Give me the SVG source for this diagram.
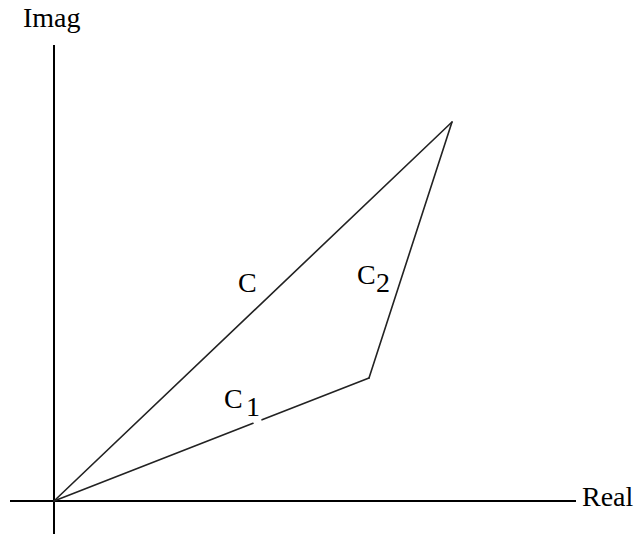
<svg xmlns="http://www.w3.org/2000/svg" width="634" height="536" viewBox="0 0 634 536">
<style>
.axis{stroke:#000;stroke-width:2;fill:none}
.edge{stroke:#222;stroke-width:1.6;fill:none;stroke-linecap:round}
text{font-family:"Liberation Serif","Times New Roman",serif;font-size:28px;fill:#000}
</style>
<rect width="634" height="536" fill="#fff"/>
<g id="axes">
<line class="axis" x1="54" y1="45" x2="54" y2="534"/>
<line class="axis" x1="10" y1="501" x2="576" y2="501"/>
<text id="imag-label" x="23" y="27">Imag</text>
<text id="real-label" x="582" y="506">Real</text>
</g>
<g id="connectors">
<line class="edge" x1="54" y1="501" x2="452" y2="122"/>
<line class="edge" x1="54" y1="501" x2="253" y2="423.3"/>
<line class="edge" x1="262" y1="419.8" x2="369" y2="378"/>
<line class="edge" x1="369" y1="378" x2="452" y2="122"/>
</g>
<g id="label-C"><text x="238" y="292">C</text></g>
<g id="label-C2"><text x="357" y="284">C</text><text x="376" y="292">2</text></g>
<g id="label-C1"><text x="224" y="408">C</text><text x="246" y="416">1</text></g>
</svg>
